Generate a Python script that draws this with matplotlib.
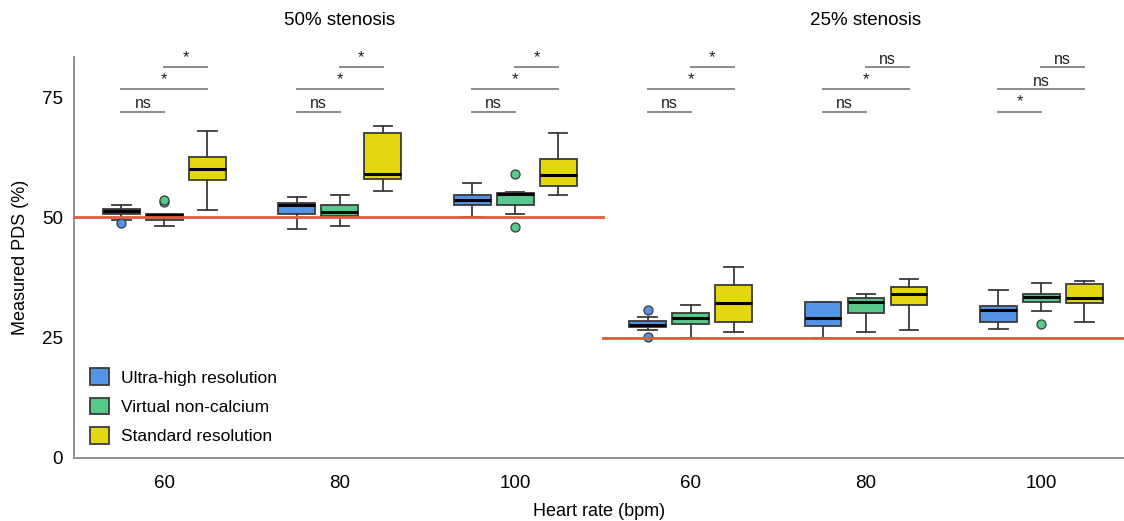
import numpy as np
import matplotlib.pyplot as plt

plt.rcParams['font.family'] = ['Liberation Sans', 'DejaVu Sans']

# group labels (heart rate) for 50% and 25% stenosis
rates = ['60', '80', '100', '60', '80', '100']
series = ['Ultra-high resolution', 'Virtual non-calcium', 'Standard resolution']
colors = ['#5394E6', '#57C98B', '#E3D810']
true_pds = [50, 25]

# box statistics per series, one entry per group
uhr_whislo = [49.5, 47.6, 50.1, 26.5, 25.0, 26.9]
uhr_q1 = [50.7, 50.7, 52.5, 27.3, 27.4, 28.3]
uhr_med = [51.25, 52.6, 53.7, 27.6, 29.1, 30.8]
uhr_q3 = [51.8, 53.1, 54.7, 28.5, 32.4, 31.6]
uhr_whishi = [52.5, 54.3, 57.2, 29.4, 32.4, 34.95]
uhr_fliers = [[48.75], [], [], [30.8, 25.2], [], []]

vnc_whislo = [48.2, 48.3, 50.7, 25.0, 26.1, 30.65]
vnc_q1 = [49.5, 50.2, 52.5, 27.95, 30.2, 32.4]
vnc_med = [50.5, 51.2, 54.85, 29.1, 32.4, 33.4]
vnc_q3 = [50.7, 52.5, 55.0, 30.2, 33.2, 34.1]
vnc_whishi = [50.7, 54.6, 55.3, 31.8, 34.05, 36.3]
vnc_fliers = [[53.2, 53.7], [], [59.1, 48.1], [], [], [27.8]]

sr_whislo = [51.5, 55.6, 54.7, 26.2, 26.5, 28.3]
sr_q1 = [57.8, 58.0, 56.6, 28.2, 31.7, 32.3]
sr_med = [60.1, 58.95, 58.9, 32.25, 34.1, 33.2]
sr_q3 = [62.6, 67.6, 62.1, 36.0, 35.6, 36.1]
sr_whishi = [68.0, 69.1, 67.6, 39.7, 37.2, 36.8]
sr_fliers = [[], [], [], [], [], []]

# significance: (UHR vs VNC, UHR vs SR, VNC vs SR)
sig_low = ['ns', 'ns', 'ns', 'ns', 'ns', '*']
sig_mid = ['*', '*', '*', '*', '*', 'ns']
sig_top = ['*', '*', '*', '*', 'ns', 'ns']

stats_all = [
    (uhr_whislo, uhr_q1, uhr_med, uhr_q3, uhr_whishi, uhr_fliers),
    (vnc_whislo, vnc_q1, vnc_med, vnc_q3, vnc_whishi, vnc_fliers),
    (sr_whislo, sr_q1, sr_med, sr_q3, sr_whishi, sr_fliers),
]

fig = plt.figure(figsize=(11.24, 5.21), dpi=100)
ax = fig.add_axes([0.0658, 0.121, 0.934, 0.770])

off = 0.245
width = 0.21
edge = '#3a3a3a'
for s, (wl, q1, med, q3, wh, fl) in enumerate(stats_all):
    bstats = []
    for g in range(len(rates)):
        bstats.append({'whislo': wl[g], 'q1': q1[g], 'med': med[g],
                       'q3': q3[g], 'whishi': wh[g], 'fliers': fl[g]})
    pos = np.arange(len(rates)) + (s - 1) * off
    ax.bxp(bstats, positions=pos, widths=width, patch_artist=True,
           showfliers=True, manage_ticks=False,
           boxprops=dict(facecolor=colors[s], edgecolor=edge, linewidth=1.3),
           medianprops=dict(color='black', linewidth=2.2),
           whiskerprops=dict(color=edge, linewidth=1.3),
           capprops=dict(color=edge, linewidth=1.3),
           flierprops=dict(marker='o', markerfacecolor=colors[s],
                           markeredgecolor=edge, markersize=6.5,
                           markeredgewidth=0.9))

# reference (true) stenosis lines
ax.plot([-0.6, 2.5], [true_pds[0]] * 2, color='#E5583A', lw=2, zorder=5)
ax.plot([2.5, 5.6], [true_pds[1]] * 2, color='#E5583A', lw=2, zorder=5)

# significance bars
def bar(x0, x1, y, txt):
    ax.plot([x0, x1], [y, y], color='#8a8a8a', lw=1.4, clip_on=False)
    dy = 1.7 if txt == 'ns' else 2.0
    ax.text((x0 + x1) / 2, y + dy, txt, ha='center', va='center',
            fontsize=11.5 if txt == 'ns' else 12, color='#222222', clip_on=False)

for g in range(len(rates)):
    bar(g - off, g, 72.0, sig_low[g])
    bar(g - off, g + off, 76.6, sig_mid[g])
    bar(g, g + off, 81.2, sig_top[g])

ax.text(1, 91.0, '50% stenosis', ha='center', va='center', fontsize=13.5)
ax.text(4, 91.0, '25% stenosis', ha='center', va='center', fontsize=13.5)

ax.set_xlim(-0.516, 5.47)
ax.set_ylim(0, 83.4)
ax.set_xticks(range(len(rates)))
ax.set_xticklabels(rates)
ax.set_yticks([0, 25, 50, 75])
ax.tick_params(length=0, labelsize=13.5)
ax.tick_params(axis='x', pad=12)
ax.tick_params(axis='y', pad=8)
for sp in ['top', 'right']:
    ax.spines[sp].set_visible(False)
for sp in ['left', 'bottom']:
    ax.spines[sp].set_color('#888888')
    ax.spines[sp].set_linewidth(1.3)

ax.set_xlabel('Heart rate (bpm)', fontsize=13, labelpad=8)
ax.set_ylabel('Measured PDS (%)', fontsize=13, labelpad=9)

handles = [plt.Rectangle((0, 0), 1, 1, facecolor=c, edgecolor=edge, lw=1.3)
           for c in colors]
ax.legend(handles, series, loc='lower left', bbox_to_anchor=(0.0, -0.005),
          frameon=False, fontsize=12.5, handlelength=1.1, handleheight=1.1,
          labelspacing=0.7, handletextpad=0.7)

fig.savefig('out.png', dpi=100)
